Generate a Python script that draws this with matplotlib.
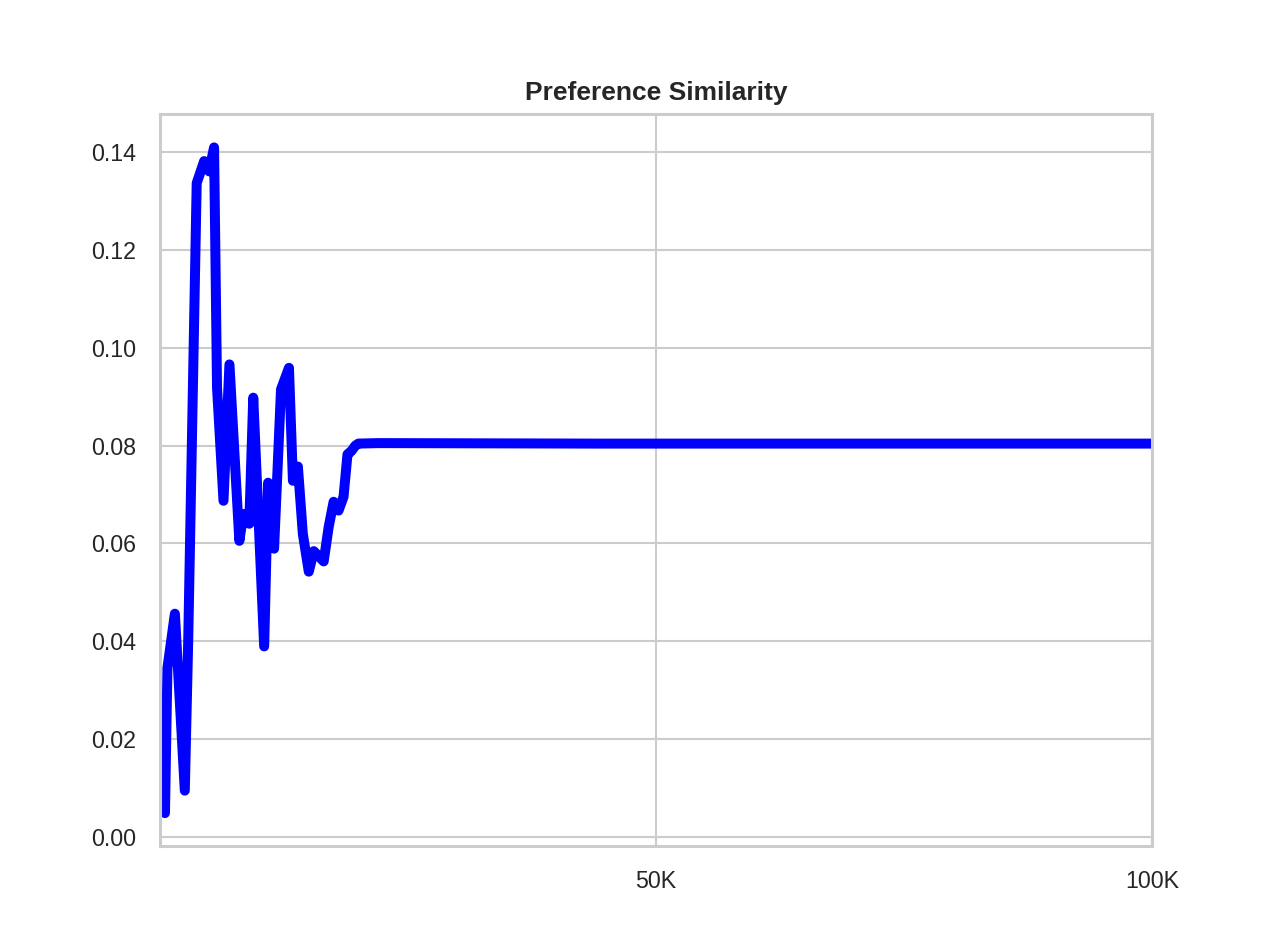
import numpy as np
import matplotlib
matplotlib.use("Agg")
import matplotlib.pyplot as plt
import seaborn as sns

sns.set_style("whitegrid")
plt.rcParams['font.family'] = ['Liberation Sans', 'DejaVu Sans']

# number of samples (x) and similarity values
steps = [500, 750, 1500, 2500, 2850, 3450, 3700, 4450, 4950, 5450, 5750, 6400,
         7000, 8000, 8400, 9000, 9400, 10500, 10900, 11500, 12200, 13000, 13400,
         13900, 14400, 15000, 15500, 16500, 17000, 17500, 18000, 18500, 18900,
         19300, 19700, 20000, 22000, 44000, 100000]
similarity = [0.0048, 0.0345, 0.0456, 0.0094, 0.0407, 0.1065, 0.1337, 0.1382,
              0.1361, 0.1410, 0.0918, 0.0687, 0.0966, 0.0605, 0.0660, 0.0640,
              0.0898, 0.0389, 0.0724, 0.0589, 0.0915, 0.0959, 0.0728, 0.0757,
              0.0619, 0.0542, 0.0584, 0.0563, 0.0633, 0.0685, 0.0667, 0.0695,
              0.0782, 0.0789, 0.0800, 0.0804, 0.0805, 0.0804, 0.0804]

xticks = [0, 50000, 100000]
xlabels = ['', '50K', '100K']

fig = plt.figure(figsize=(6.4, 4.755), dpi=200)
ax = plt.gca()
ax.plot(steps, similarity, color='blue', linewidth=3.6)
ax.set_xlim(0, 100000)
ax.set_xticks(xticks)
ax.set_xticklabels(xlabels)
ax.tick_params(axis='both', labelsize=8.4, pad=5, colors='#262626')
ax.set_title('Preference Similarity', fontsize=9.5, fontweight='bold', pad=5, color='#262626')
for s in ax.spines.values():
    s.set_color('#cccccc')
    s.set_linewidth(1.1)
ax.grid(True, color='#cccccc', linewidth=0.75)

plt.savefig('out.png', dpi=200)
